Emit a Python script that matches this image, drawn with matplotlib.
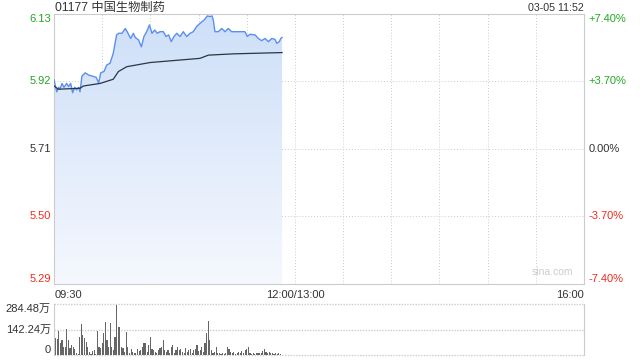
import numpy as np
import matplotlib
matplotlib.use('Agg')
import matplotlib.pyplot as plt

plt.rcParams['font.family'] = ['Liberation Sans', 'Noto Sans CJK SC', 'DejaVu Sans']

# minutes after 09:30 and price
t_price = [0, 1.7, 2.9, 3.7, 5, 6.2, 7.9, 9.1, 10.4, 11.6, 12.9, 14.1, 15.4, 16.2, 17.4, 19.5,
           21.6, 23.7, 26.2, 27.8, 29.1, 31.1, 32.8, 34.9, 36.9, 38.2, 39, 40.3, 42.3, 44.4,
           46.1, 47.7, 49.4, 50.6, 52.7, 54.4, 56, 57.7, 59.4, 61, 62.7, 64.3, 66, 68.1, 69.7,
           71.4, 73, 74.7, 76.4, 78.5, 80.5, 82.6, 84.7, 86.7, 88.8, 90.9, 93.4, 95.5, 97.1,
           98.4, 99.2, 100.2, 102.3, 104.4, 106.5, 108.5, 110.6, 112.7, 115.8, 118.9, 120.4,
           122, 125.2, 127.2, 129.3, 131.4, 133.5, 135.6, 137.6, 138.7, 140.3, 141.2, 142]
price = [5.925, 5.888, 5.902, 5.896, 5.914, 5.902, 5.914, 5.904, 5.914, 5.885, 5.902, 5.894,
         5.902, 5.888, 5.937, 5.947, 5.940, 5.937, 5.933, 5.916, 5.947, 5.951, 5.971, 5.977,
         6.008, 6.044, 6.065, 6.070, 6.070, 6.085, 6.070, 6.054, 6.070, 6.057, 6.049, 6.028,
         6.060, 6.075, 6.096, 6.070, 6.080, 6.070, 6.075, 6.075, 6.060, 6.065, 6.044, 6.060,
         6.070, 6.060, 6.075, 6.060, 6.070, 6.075, 6.091, 6.101, 6.111, 6.124, 6.122, 6.124,
         6.111, 6.075, 6.075, 6.085, 6.075, 6.085, 6.075, 6.075, 6.075, 6.075, 6.060, 6.067,
         6.065, 6.054, 6.047, 6.054, 6.044, 6.054, 6.051, 6.039, 6.044, 6.054, 6.057]

t_avg = [0, 2.7, 16.2, 18.3, 28.7, 36.9, 40.1, 45.3, 59.8, 90.9, 96.1, 111.6, 142]
avg = [5.906, 5.896, 5.899, 5.906, 5.914, 5.927, 5.951, 5.966, 5.979, 5.992, 6.002, 6.006, 6.010]

# volume per minute, in 万
vol = [112, 93, 89, 134, 65, 84, 43, 46, 143, 84, 37, 56, 43, 32, 9, 4, 99, 173, 112, 93,
       74, 46, 19, 4, 24, 28, 6, 134, 43, 37, 69, 121, 184, 84, 43, 177, 43, 28, 99, 279,
       158, 158, 43, 37, 19, 130, 43, 9, 32, 19, 9, 13, 32, 24, 28, 43, 69, 69, 19, 56, 102,
       32, 28, 19, 13, 28, 37, 43, 84, 28, 19, 28, 9, 43, 56, 13, 28, 43, 28, 32, 19, 9, 37,
       19, 28, 32, 13, 28, 32, 56, 24, 28, 43, 19, 65, 121, 190, 84, 28, 13, 19, 43, 9, 9,
       4, 13, 6, 9, 43, 32, 19, 13, 19, 6, 9, 19, 13, 24, 13, 28, 32, 43, 9, 6, 9, 4, 9, 13,
       9, 13, 24, 32, 19, 9, 19, 13, 9, 6, 13, 6, 9, 4]

prev_close = 5.71
price_ticks = [6.13, 5.92, 5.71, 5.50, 5.29]
pct_labels = ['+7.40%', '+3.70%', '0.00%', '-3.70%', '-7.40%']
vol_ticks = [284.48, 142.24, 0]
vol_labels = ['284.48万', '142.24万', '0']

green = '#22a722'
red = '#ee2c1e'
grey = '#333333'
colors = [green, green, grey, red, red]

fig = plt.figure(figsize=(6.4, 3.6), dpi=100)
ax = fig.add_axes([54/640, 1-284/360, 530/640, 270/360])
axv = fig.add_axes([54/640, 1-355/360, 530/640, 51/360])

# gradient fill under price line
poly = ax.fill_between(t_price, price, 5.29, color='none', lw=0)
grad = np.linspace(0, 1, 256).reshape(-1, 1)
cmap = matplotlib.colors.LinearSegmentedColormap.from_list('g', ['#cddff8', '#f5f8fe'])
im = ax.imshow(grad, cmap=cmap, aspect='auto', extent=[0, 142, 5.29, 6.13], origin='upper', zorder=1)
im.set_clip_path(poly.get_paths()[0], transform=ax.transData)

ax.plot(t_price, price, color='#5b8fef', lw=1, zorder=3)
ax.plot(t_avg, avg, color='#2e3443', lw=0.9, zorder=3)

ax.set_xlim(0, 330)
ax.set_ylim(5.29, 6.13)
for x in range(30, 330, 30):
    ax.axvline(x, color='#cccccc', lw=0.7, ls=(0, (1, 2)), zorder=0)
for y in price_ticks[1:-1]:
    ax.axhline(y, color='#cccccc', lw=0.7, ls=(0, (1, 2)), zorder=0)
ax.set_xticks([])
ax.set_yticks([])
for s in ax.spines.values():
    s.set_color('#cccccc')
    s.set_linewidth(0.8)

for i, (p, c) in enumerate(zip(price_ticks, colors)):
    va = 'top' if i == 0 else ('bottom' if i == len(price_ticks) - 1 else 'center')
    ax.text(-0.006, p, '%.2f' % p, transform=ax.get_yaxis_transform(), ha='right', va=va,
            color=c, fontsize=8)
    ax.text(1.008, p, pct_labels[i], transform=ax.get_yaxis_transform(), ha='left', va=va,
            color=c, fontsize=8)

ax.text(0.002, -0.022, '09:30', transform=ax.transAxes, ha='left', va='top', fontsize=8, color=grey)
ax.text(150, -0.022, '12:00/13:00', transform=ax.get_xaxis_transform(), ha='center', va='top',
        fontsize=8, color=grey)
ax.text(1.0, -0.022, '16:00', transform=ax.transAxes, ha='right', va='top', fontsize=8, color=grey)
ax.text(0.002, 1.021, '01177 中国生物制药', transform=ax.transAxes, ha='left', va='center',
        fontsize=8.8, color=grey)
ax.text(1.0, 1.024, '03-05 11:52', transform=ax.transAxes, ha='right', va='center',
        fontsize=7.7, color=grey)
ax.text(0.94, 0.025, 'sina.com', transform=ax.transAxes, ha='center', va='bottom',
        fontsize=7.5, color='#cccccc')

# volume
axv.bar(np.arange(len(vol)), vol, width=0.7, color='#666666', zorder=2)
axv.set_xlim(0, 330)
axv.set_ylim(0, 284.48)
for v in vol_ticks:
    axv.axhline(v, color='#cccccc', lw=1, ls=(0, (1, 1)), zorder=0, clip_on=False)
axv.set_xticks([])
axv.set_yticks([])
for k in ['top', 'bottom']:
    axv.spines[k].set_visible(False)
for k in ['left', 'right']:
    axv.spines[k].set_color('#cccccc')
    axv.spines[k].set_linewidth(0.8)
for i, v in enumerate(vol_ticks):
    va = 'top' if i == 0 else ('bottom' if i == len(vol_ticks) - 1 else 'center')
    axv.text(-0.006, v, vol_labels[i], transform=axv.get_yaxis_transform(), ha='right', va=va,
             fontsize=8, color=grey)

fig.savefig('out.png', dpi=100)
